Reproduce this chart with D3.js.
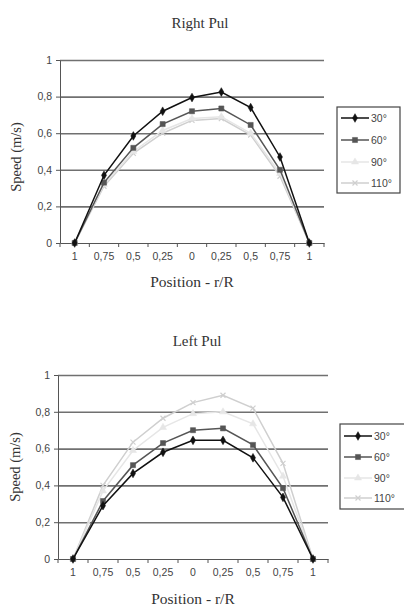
<!DOCTYPE html>
<meta charset="utf-8">
<script src="https://d3js.org/d3.v7.min.js"></script>
<style>
  body { margin: 0; background: #fff; }
  .grid line { stroke: #707070; stroke-width: 1.6px; }
  .grid path { stroke-width: 0; }
  .axis path, .axis line { stroke: #555; }
  .axis text { font-family: "Liberation Sans", Arial, sans-serif; font-size: 10.5px; fill: #444; }
  .ttl { font-family: "Liberation Serif", "Times New Roman", serif; fill: #333; }
</style>
<div id="chart"></div>
<script>
// categories along the diameter
var positions = ["1", "0,75", "0,5", "0,25", "0", "0,25", "0,5", "0,75", "1"];
var angles = ["30°", "60°", "90°", "110°"];
var yTicks = [0, 0.2, 0.4, 0.6, 0.8, 1];

// Right Pul
var right30 = [0, 0.37, 0.585, 0.72, 0.795, 0.825, 0.74, 0.47, 0];
var right60 = [0, 0.33, 0.52, 0.65, 0.72, 0.735, 0.645, 0.40, 0];
var right90 = [0, 0.32, 0.50, 0.615, 0.68, 0.69, 0.60, 0.38, 0];
var right110 = [0, 0.31, 0.49, 0.60, 0.67, 0.68, 0.59, 0.365, 0];

// Left Pul
var left30 = [0, 0.29, 0.465, 0.58, 0.645, 0.645, 0.55, 0.335, 0];
var left60 = [0, 0.315, 0.51, 0.63, 0.70, 0.71, 0.62, 0.385, 0];
var left90 = [0, 0.37, 0.59, 0.715, 0.79, 0.80, 0.735, 0.45, 0];
var left110 = [0, 0.40, 0.635, 0.765, 0.85, 0.89, 0.82, 0.52, 0];

var colors = ["#111", "#555", "#e6e6e6", "#cfcfcf"];
var symbols = [d3.symbolDiamond, d3.symbolSquare, d3.symbolTriangle, d3.symbolTimes];
var symSize = [22, 26, 22, 18];

var svg = d3.select("#chart").append("svg")
  .attr("width", 404)
  .attr("height", 607);

function drawChart(o) {
  var g = svg.append("g");

  var x = d3.scaleBand()
    .domain(d3.range(positions.length))
    .range([o.left, o.right]);
  var y = d3.scaleLinear()
    .domain([0, 1])
    .range([o.bottom, o.top]);

  // title
  g.append("text").attr("class", "ttl")
    .attr("x", o.titleX).attr("y", o.titleY)
    .attr("text-anchor", "middle")
    .style("font-size", "15px")
    .text(o.title);

  // gridlines
  g.append("g").attr("class", "grid")
    .attr("transform", "translate(" + o.left + ",0)")
    .call(d3.axisLeft(y).tickValues(yTicks.slice(1)).tickSize(-(o.right - o.left)).tickFormat(""));

  // y axis
  g.append("g").attr("class", "axis")
    .attr("transform", "translate(" + o.left + ",0)")
    .call(d3.axisLeft(y).tickValues(yTicks).tickSize(4).tickPadding(4).tickSizeOuter(0)
      .tickFormat(function(d) { return d3.format("")(d).replace(".", ","); }));

  // x axis: labels at centers, ticks at band edges
  var xa = g.append("g").attr("class", "axis")
    .attr("transform", "translate(0," + o.bottom + ")")
    .call(d3.axisBottom(x).tickSize(0).tickPadding(10).tickSizeOuter(0)
      .tickFormat(function(i) { return positions[i]; }));
  xa.selectAll(".edge")
    .data(d3.range(positions.length + 1))
    .enter().append("line")
    .attr("x1", function(i) { return o.left + i * x.step(); })
    .attr("x2", function(i) { return o.left + i * x.step(); })
    .attr("y1", 0).attr("y2", 4)
    .attr("stroke", "#555");

  // axis titles
  g.append("text").attr("class", "ttl")
    .attr("x", (o.left + o.right) / 2).attr("y", o.xTitleY)
    .attr("text-anchor", "middle")
    .style("font-size", "15.5px")
    .text("Position - r/R");
  g.append("text").attr("class", "ttl")
    .attr("transform", "translate(" + o.yTitleX + "," + o.yTitleY + ")rotate(-90)")
    .attr("text-anchor", "middle")
    .style("font-size", "14.5px")
    .text("Speed (m/s)");

  var line = d3.line()
    .x(function(d, i) { return x(i) + x.bandwidth() / 2; })
    .y(function(d) { return y(d); });

  // draw light series first so the dark ones stay on top
  [3, 2, 1, 0].forEach(function(k) {
    var vals = o.series[k];
    g.append("path")
      .datum(vals)
      .attr("fill", "none")
      .attr("stroke", colors[k])
      .attr("stroke-width", 1.5)
      .attr("d", line);
    g.selectAll(".m" + k)
      .data(vals)
      .enter().append("path")
      .attr("transform", function(d, i) { return "translate(" + (x(i) + x.bandwidth() / 2) + "," + y(d) + ")"; })
      .attr("d", d3.symbol().type(symbols[k]).size(symSize[k]))
      .attr("fill", k == 3 ? "none" : colors[k])
      .attr("stroke", colors[k])
      .attr("stroke-width", k == 3 ? 1.2 : 0.5);
  });

  // legend
  var lg = g.append("g");
  lg.append("rect")
    .attr("x", o.legX).attr("y", o.legTop)
    .attr("width", o.legW).attr("height", o.legH)
    .attr("fill", "#fff")
    .attr("stroke", "#444")
    .attr("stroke-width", 1.2);
  angles.forEach(function(a, k) {
    var ly = o.legRows[k];
    lg.append("line")
      .attr("x1", o.legX + 4).attr("x2", o.legX + 32)
      .attr("y1", ly).attr("y2", ly)
      .attr("stroke", colors[k]).attr("stroke-width", 1.5);
    lg.append("path")
      .attr("transform", "translate(" + (o.legX + 18) + "," + ly + ")")
      .attr("d", d3.symbol().type(symbols[k]).size(symSize[k]))
      .attr("fill", k == 3 ? "none" : colors[k])
      .attr("stroke", colors[k])
      .attr("stroke-width", k == 3 ? 1.2 : 0.5);
    lg.append("text")
      .attr("x", o.legX + 34).attr("y", ly)
      .attr("dy", "0.35em")
      .style("font-family", "Liberation Sans, Arial, sans-serif")
      .style("font-size", "10.5px")
      .attr("fill", "#444")
      .text(a);
  });
}

drawChart({
  title: "Right Pul", titleX: 200, titleY: 28,
  left: 60, right: 324, top: 60, bottom: 243,
  xTitleY: 287, yTitleX: 21, yTitleY: 157,
  series: [right30, right60, right90, right110],
  legX: 337, legTop: 107, legW: 63, legH: 86,
  legRows: [118, 140, 162, 183]
});

drawChart({
  title: "Left Pul", titleX: 197, titleY: 346,
  left: 58, right: 328, top: 375, bottom: 559,
  xTitleY: 604, yTitleX: 20, yTitleY: 467,
  series: [left30, left60, left90, left110],
  legX: 340, legTop: 424, legW: 70, legH: 85,
  legRows: [436, 457, 478, 498]
});
</script>
